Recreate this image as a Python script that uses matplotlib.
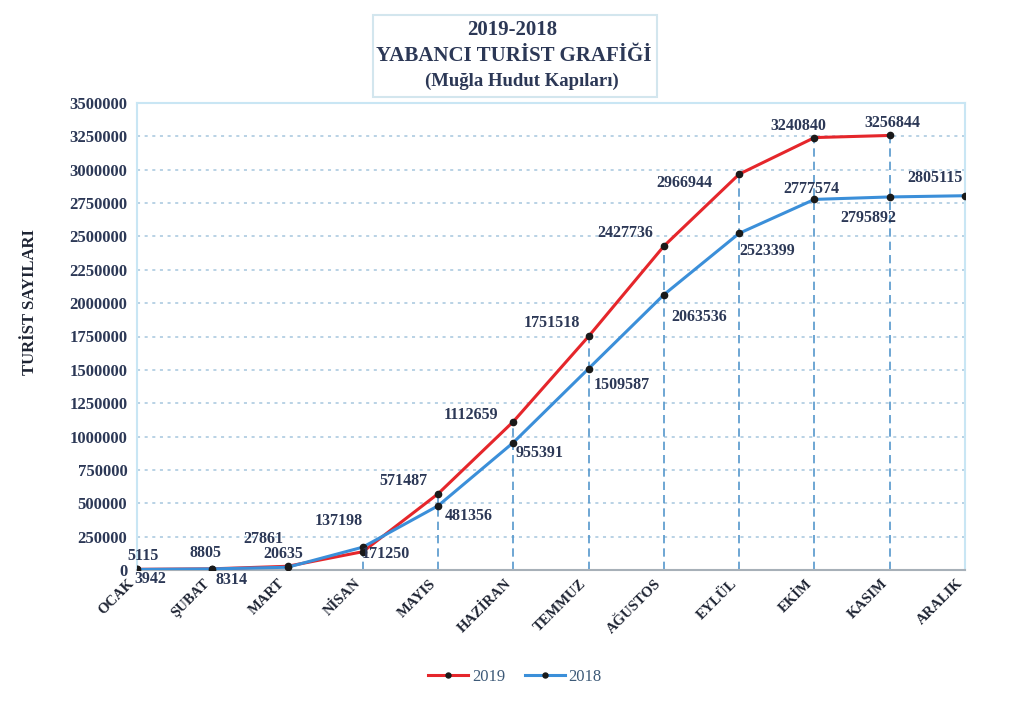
import matplotlib
matplotlib.use('Agg')
import matplotlib.pyplot as plt
from matplotlib.patches import Rectangle

months = ['OCAK', 'ŞUBAT', 'MART', 'NİSAN', 'MAYIS', 'HAZİRAN', 'TEMMUZ',
          'AĞUSTOS', 'EYLÜL', 'EKİM', 'KASIM', 'ARALIK']
tourists_2019 = [5115, 8805, 27861, 137198, 571487, 1112659, 1751518,
                 2427736, 2966944, 3240840, 3256844]
tourists_2018 = [3942, 8314, 20635, 171250, 481356, 955391, 1509587,
                 2063536, 2523399, 2777574, 2795892, 2805115]

# label offsets in pixels (dx, dy) for each point
off_2019 = [(6, 13), (-7, 16), (-24, 27), (-24, 31), (-35, 13), (-42, 7),
            (-37, 13), (-39, 13), (-55, -9), (-16, 12), (3, 12)]
off_2018 = [(13, -10), (19, -11), (-4, 13), (23, -7), (31, -10), (26, -10),
            (33, -16), (35, -22), (28, -18), (-3, 10), (-21, -21), (-30, 18)]

navy = '#2c3856'
red = '#e5262b'
blue = '#3b8fd9'

plt.rcParams['font.family'] = ['Liberation Serif', 'DejaVu Serif']

fig = plt.figure(figsize=(10.14, 7.03), dpi=100)
ax = fig.add_axes([137 / 1014, 1 - 570 / 703, (965 - 137) / 1014, (570 - 103) / 703])

x19 = list(range(len(tourists_2019)))
x18 = list(range(len(tourists_2018)))

# grid
ax.set_ylim(0, 3500000)
ax.set_xlim(0, 11)
yt = list(range(0, 3500001, 250000))
ax.set_yticks(yt)
ax.set_yticklabels([str(v) for v in yt])
for v in yt[1:]:
    ax.axhline(v, color='#a6c6de', lw=1.1, ls=(0, (2, 3)), zorder=1)

# drop lines to the highest point of each month
for i in range(len(months)):
    top = tourists_2018[i]
    if i < len(tourists_2019):
        top = max(top, tourists_2019[i])
    ax.vlines(i, 0, top, color='#5597cc', lw=1.2, ls=(0, (5, 3)), zorder=1)

l19, = ax.plot(x19, tourists_2019, color=red, lw=2.2, marker='o', ms=4.5,
               mfc='#1a1a1a', mec='#1a1a1a', zorder=3)
l18, = ax.plot(x18, tourists_2018, color=blue, lw=2.2, marker='o', ms=4.5,
               mfc='#1a1a1a', mec='#1a1a1a', zorder=3)

for i, v in enumerate(tourists_2019):
    ax.annotate(str(v), (i, v), xytext=off_2019[i], textcoords='offset pixels',
                ha='center', va='center', fontsize=11.5, fontweight='bold', color=navy, zorder=4)
for i, v in enumerate(tourists_2018):
    ax.annotate(str(v), (i, v), xytext=off_2018[i], textcoords='offset pixels',
                ha='center', va='center', fontsize=11.5, fontweight='bold', color=navy, zorder=4)

ax.set_xticks(range(len(months)))
ax.set_xticklabels(months, rotation=45, ha='right', fontsize=10.5, fontweight='bold', color='#1e2433')
ax.tick_params(axis='x', length=0, pad=5)
ax.tick_params(axis='y', length=0, pad=7, labelsize=12, labelcolor=navy)
for t in ax.get_yticklabels():
    t.set_fontweight('bold')

for s in ['left', 'top', 'right']:
    ax.spines[s].set_color('#c9e6f4')
    ax.spines[s].set_linewidth(1.5)
ax.spines['bottom'].set_color('#a7b0b8')
ax.spines['bottom'].set_linewidth(1.5)

fig.text(30 / 1014, 1 - 302 / 703, 'TURİST SAYILARI', rotation=90, ha='center', va='center',
         fontsize=12, fontweight='bold', color='#1e2433')

# title box
fig.patches.append(Rectangle((373 / 1014, 1 - 97 / 703), (657 - 373) / 1014, 82 / 703,
                             transform=fig.transFigure, fill=False, ec='#d3e6ee', lw=1.5))
fig.text(512 / 1014, 1 - 30 / 703, '2019-2018', ha='center', va='center',
         fontsize=15, fontweight='bold', color=navy)
fig.text(514 / 1014, 1 - 56 / 703, 'YABANCI TURİST GRAFİĞİ', ha='center', va='center',
         fontsize=15, fontweight='bold', color=navy)
fig.text(522 / 1014, 1 - 81 / 703, '(Muğla Hudut Kapıları)', ha='center', va='center',
         fontsize=13.5, fontweight='bold', color=navy)

fig.legend([l19, l18], ['2019', '2018'], loc='center', bbox_to_anchor=(515 / 1014, 1 - 677 / 703),
           ncol=2, frameon=False, fontsize=12, handlelength=2.4, handletextpad=0.2,
           columnspacing=1.2, markerscale=0.8, labelcolor='#3d5a78')

fig.savefig('out.png', dpi=100)
